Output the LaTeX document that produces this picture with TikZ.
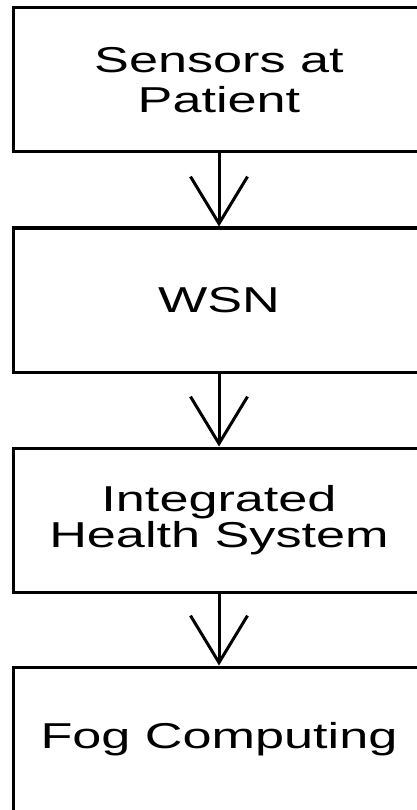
\documentclass[tikz,border=0pt]{standalone}
\usepackage{fontspec}
\usepackage{graphicx}
\setmainfont{Liberation Sans}
\usetikzlibrary{arrows.meta}
\newcommand{\wideText}[1]{\scalebox{1.45}[1]{#1}}
\tikzset{
  flowbox/.style={draw=black, line width=3pt, rectangle, minimum width=412pt, minimum height=144pt, inner sep=0pt, align=center, text=black},
  flowarrow/.style={line width=3pt, -{Straight Barb[length=47pt,width=57pt,line width=3pt]}}
}
\begin{document}
\begin{tikzpicture}[x=1pt,y=-1pt]
\useasboundingbox (0,0) rectangle (417,810);
\clip (0,0) rectangle (417,810);
\node[flowbox, font=\fontsize{36}{40}\selectfont] (b1) at (219,80) {\wideText{Sensors at}\\\wideText{Patient}};
\node[flowbox, font=\fontsize{36}{40}\selectfont] (b2) at (219,300) {\wideText{WSN}};
\node[flowbox, font=\fontsize{36}{36}\selectfont] (b3) at (219,520) {\wideText{Integrated}\\\wideText{Health System}};
\node[flowbox, font=\fontsize{36}{40}\selectfont] (b4) at (219,739) {\wideText{Fog Computing}};
\draw[flowarrow] (b1.south) -- (b2.north);
\draw[flowarrow] (b2.south) -- (b3.north);
\draw[flowarrow] (b3.south) -- (b4.north);
\end{tikzpicture}
\end{document}
